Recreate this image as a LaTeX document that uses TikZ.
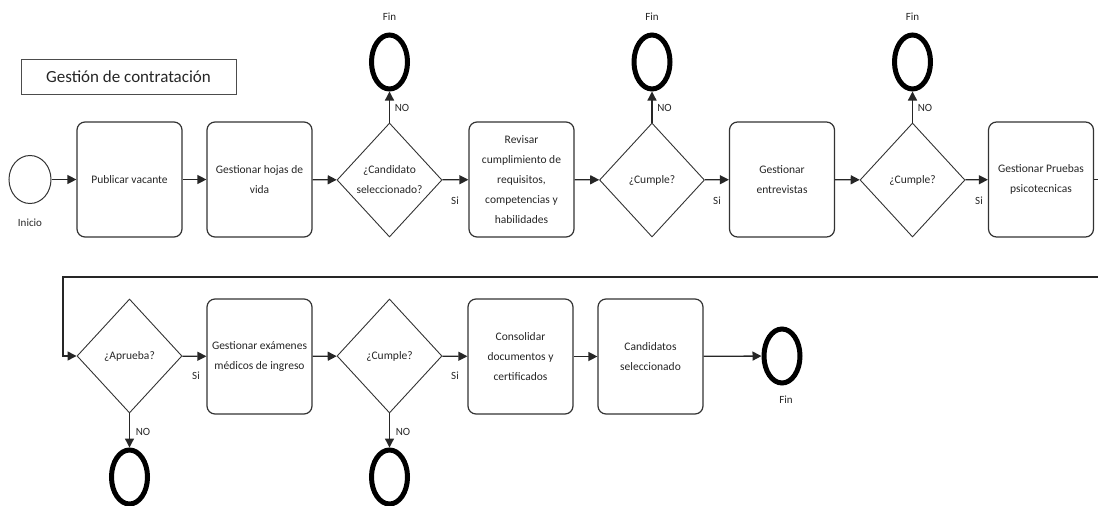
\documentclass[tikz,border=0pt]{standalone}
\usepackage{fontspec}
\setmainfont{Carlito}
\usetikzlibrary{shapes.geometric,arrows.meta}

\begin{document}
\begin{tikzpicture}[x=1pt,y=-1pt,
  tarea/.style={draw=black!80, line width=1.2pt, rounded corners=8pt, fill=white,
    minimum width=105pt, minimum height=115pt, align=center,
    font=\fontsize{11.5}{20}\selectfont, text=black!85},
  decision/.style={draw=black!80, line width=0.9pt, diamond, aspect=0.92, inner sep=0pt,
    minimum width=105pt, minimum height=114pt, align=center,
    font=\fontsize{11.5}{20}\selectfont, text=black!85},
  fin/.style={draw=black, ellipse, line width=5pt, minimum width=36pt, minimum height=54pt},
  flujo/.style={line width=1.3pt, draw=black!85, -{Triangle[length=9pt,width=9pt]}},
  etiq/.style={font=\fontsize{11}{13}\selectfont, text=black!85}]

  \useasboundingbox (0,0) rectangle (1098,506);

  \node[draw=black!70, line width=0.9pt, minimum width=215pt, minimum height=35pt,
    font=\fontsize{17}{19}\selectfont, text=black!85] (titulo) at (128.5,76.5) {Gestión de contratación};

  \node[draw=black!80, ellipse, line width=1pt, minimum width=42pt, minimum height=48pt] (inicio) at (30,179.5) {};
  \node[etiq] (linicio) at (30,223) {Inicio};
  \node[tarea] (publicar) at (129.5,179.5) {Publicar vacante};
  \node[tarea] (hojas) at (259.5,179.5) {Gestionar hojas de\\vida};
  \node[decision] (candidato) at (389.5,180) {¿Candidato\\seleccionado?};
  \node[tarea] (revisar) at (521.5,179.5) {Revisar\\cumplimiento de\\requisitos,\\competencias y\\habilidades};
  \node[decision] (cumple1) at (652,180) {¿Cumple?};
  \node[tarea] (entrevistas) at (782,179.5) {Gestionar\\entrevistas};
  \node[decision] (cumple2) at (912.5,180) {¿Cumple?};
  \node[tarea] (pruebas) at (1041,179.5) {Gestionar Pruebas\\psicotecnicas};

  \node[fin] (fin1) at (389.5,62) {};
  \node[fin] (fin2) at (652,62) {};
  \node[fin] (fin3) at (912.5,62) {};
  \node[etiq] (lfin1) at (389.5,17) {Fin};
  \node[etiq] (lfin2) at (652,17) {Fin};
  \node[etiq] (lfin3) at (912.5,17) {Fin};

  \node[decision] (aprueba) at (129.5,356) {¿Aprueba?};
  \node[tarea] (examenes) at (259.5,356.5) {Gestionar exámenes\\médicos de ingreso};
  \node[decision] (cumple3) at (389.5,356) {¿Cumple?};
  \node[tarea] (consolidar) at (520.5,356.5) {Consolidar\\documentos y\\certificados};
  \node[tarea] (candidatos) at (650.5,356.5) {Candidatos\\seleccionado};
  \node[fin] (fin4) at (129.5,477) {};
  \node[fin] (fin5) at (389.5,477) {};
  \node[fin] (fin6) at (782,356) {};
  \node[etiq] (lfin6) at (786,400) {Fin};

  \node[etiq] (si1) at (455,201) {Si};
  \node[etiq] (si2) at (717,201) {Si};
  \node[etiq] (si3) at (979,201) {Si};
  \node[etiq] (si4) at (196,376) {Si};
  \node[etiq] (si5) at (455,376) {Si};
  \node[etiq] (no1) at (402,108) {NO};
  \node[etiq] (no2) at (664.5,108) {NO};
  \node[etiq] (no3) at (925,108) {NO};
  \node[etiq] (no4) at (143,432) {NO};
  \node[etiq] (no5) at (403,432) {NO};

  \coordinate (giro1) at (1110,179.5);
  \coordinate (giro2) at (1110,277);
  \coordinate (giro3) at (63,277);

  \draw[flujo] (inicio) -- (publicar);
  \draw[flujo] (publicar) -- (hojas);
  \draw[flujo] (hojas) -- (candidato);
  \draw[flujo] (candidato) -- (revisar);
  \draw[flujo] (candidato) -- (fin1);
  \draw[flujo] (revisar) -- (cumple1);
  \draw[flujo] (cumple1) -- (entrevistas);
  \draw[flujo] (cumple1) -- (fin2);
  \draw[flujo] (entrevistas) -- (cumple2);
  \draw[flujo] (cumple2) -- (pruebas);
  \draw[flujo] (cumple2) -- (fin3);
  \draw[flujo] (pruebas) -- (giro1) -- (giro2) -- (giro3) |- (aprueba);
  \draw[flujo] (aprueba) -- (examenes);
  \draw[flujo] (aprueba) -- (fin4);
  \draw[flujo] (examenes) -- (cumple3);
  \draw[flujo] (cumple3) -- (consolidar);
  \draw[flujo] (cumple3) -- (fin5);
  \draw[flujo] (consolidar) -- (candidatos);
  \draw[flujo] (candidatos) -- (fin6);

\end{tikzpicture}
\end{document}
